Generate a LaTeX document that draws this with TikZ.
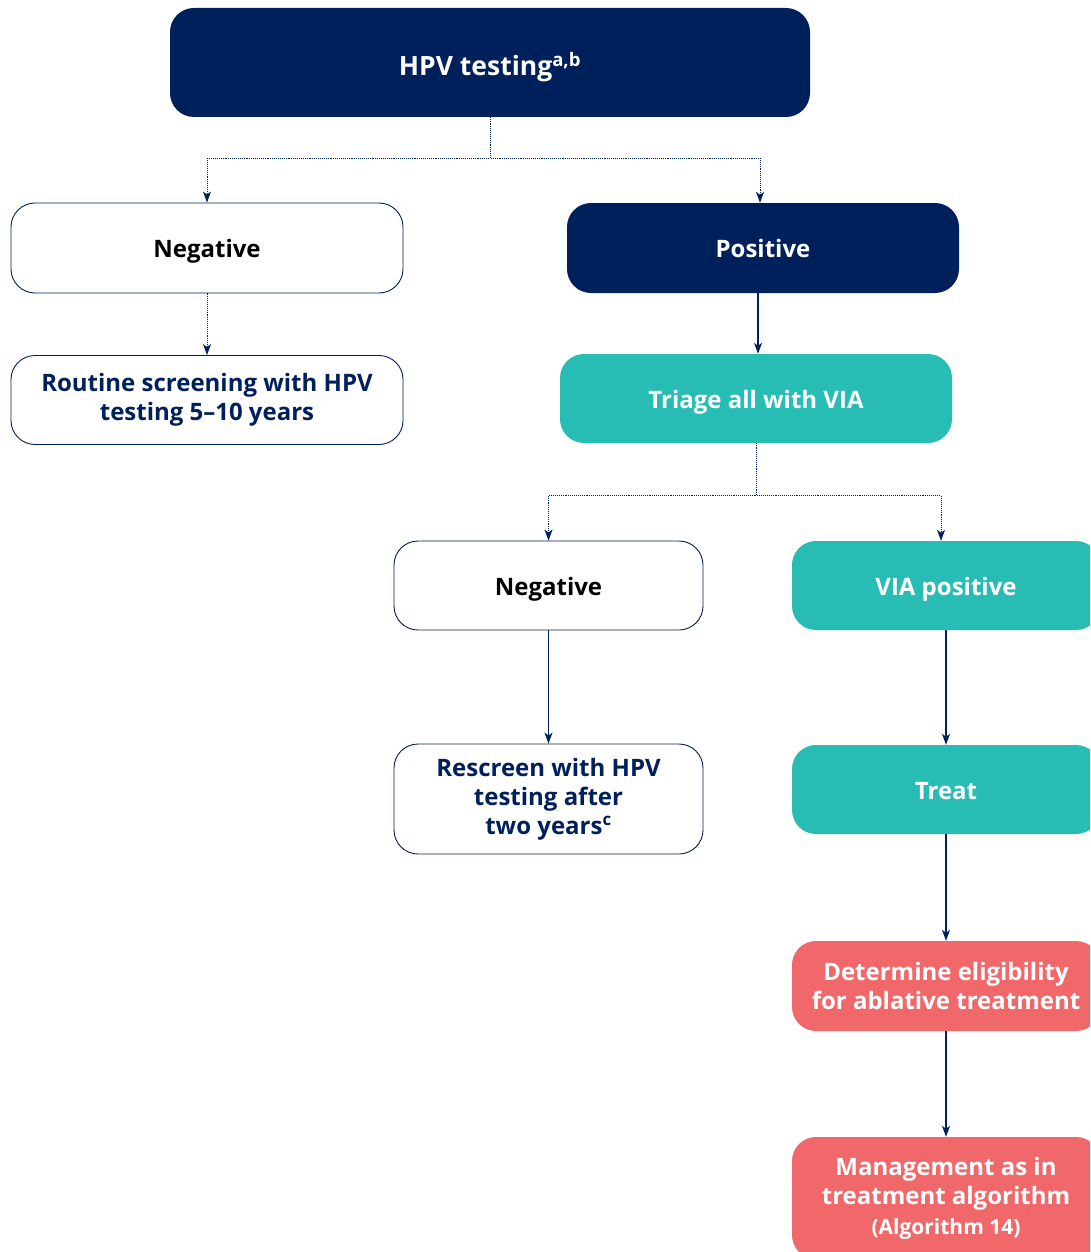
\documentclass[tikz,border=0pt]{standalone}
\usepackage{fontspec}
\setmainfont{Open Sans}
\usetikzlibrary{arrows.meta,positioning,calc}
\definecolor{navy}{HTML}{00205B}
\definecolor{teal}{HTML}{27BDB5}
\definecolor{coral}{HTML}{F0686A}

\begin{document}
\begin{tikzpicture}[x=1pt, y=-1pt,
    bx/.style={rounded corners=24pt, align=center, font=\fontsize{24}{29}\selectfont\bfseries, inner sep=0pt},
    one/.style={text height=19pt, text depth=0pt},
    wbox/.style={bx, draw=navy, line width=0.9pt, fill=white},
    nbox/.style={bx, fill=navy, text=white},
    tbox/.style={bx, fill=teal, text=white},
    rbox/.style={bx, fill=coral, text=white},
    arr/.style={-{Stealth[length=11pt, width=8pt, inset=3pt]}, navy, line width=1.1pt},
    darr/.style={arr, densely dotted, line width=0.9pt}
]
\useasboundingbox (0,0) rectangle (1090,1252);
\clip (0,0) rectangle (1090,1252);

\node[nbox, minimum width=640pt, minimum height=109pt, font=\fontsize{26.5}{30}\selectfont\bfseries, text height=27pt, text depth=0pt] (hpv) at (490,62.5) {HPV testing\textsuperscript{a,b}};
\node[wbox, one, minimum width=392pt, minimum height=90pt] (negl) at (207,248) {Negative};
\node[nbox, one, minimum width=392pt, minimum height=90pt] (pos) at (763,248) {Positive};
\node[wbox, text=navy, minimum width=392pt, minimum height=89pt] (routine) at (207,400) {Routine screening with HPV\\testing 5--10 years};
\node[tbox, one, minimum width=392pt, minimum height=89pt] (triage) at (756,398.5) {Triage all with VIA};
\node[wbox, one, minimum width=309pt, minimum height=89pt] (negm) at (548.5,585.5) {Negative};
\node[tbox, one, minimum width=308pt, minimum height=89pt] (viapos) at (946,585.5) {VIA positive};
\node[wbox, text=navy, minimum width=309pt, minimum height=110pt] (rescreen) at (548.5,799) {Rescreen with HPV\\testing after\\two years\textsuperscript{c}};
\node[tbox, one, minimum width=308pt, minimum height=89pt] (treat) at (946,789.5) {Treat};
\node[rbox, minimum width=308pt, minimum height=90pt] (elig) at (946,986) {Determine eligibility\\for ablative treatment};
\node[rbox, minimum width=308pt, minimum height=122pt] (mgmt) at (946,1198) {Management as in\\treatment algorithm\\[1pt]{\fontsize{21}{24}\selectfont(Algorithm 14)}};

% first split
\draw[darr] (hpv.south) -- ++(0,41) -| (negl.north);
\draw[darr] (hpv.south) -- ++(0,41) -| ([xshift=-3pt]pos.north);
\draw[darr] (negl) -- (routine);
\draw[arr] ([xshift=-5pt]pos.south) -- ([xshift=2pt]triage.north);

% second split
\draw[darr] (triage.south) -- ++(0,52) -| (negm.north);
\draw[darr] (triage.south) -- ++(0,52) -| ([xshift=-5pt]viapos.north);
\draw[arr] (negm) -- (rescreen);
\draw[arr] (viapos) -- (treat);
\draw[arr] (treat) -- (elig);
\draw[arr] (elig) -- (mgmt);
\end{tikzpicture}
\end{document}
